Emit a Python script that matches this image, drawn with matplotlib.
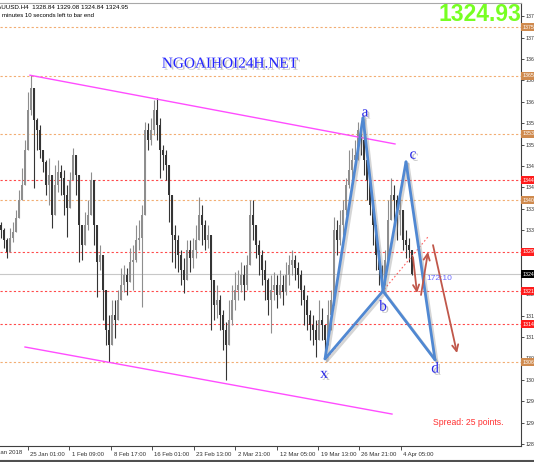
import matplotlib.pyplot as plt
import matplotlib.patheffects as pe
import matplotlib.transforms as mtransforms
import numpy as np

# H4 candles (each entry spans roughly two chart bars), prices
close = [
    1334.0, 1332.0, 1329.5, 1332.4, 1333.6, 1336.5, 1340.2, 1343.3, 1350.5, 1358.8,
    1363.4, 1356.7, 1354.7, 1350.5, 1348.1, 1343.3, 1345.4, 1337.1, 1343.3, 1346.0,
    1344.8, 1341.3, 1338.6, 1344.4, 1349.5, 1345.4, 1335.1, 1330.9, 1335.1, 1337.1,
    1344.4, 1335.1, 1327.4, 1328.9, 1321.6, 1313.4, 1310.3, 1316.5, 1315.4, 1319.6,
    1322.7, 1324.7, 1323.3, 1327.4, 1327.8, 1332.0, 1332.4, 1337.1, 1354.7, 1352.6,
    1354.7, 1358.8, 1355.7, 1350.5, 1349.5, 1347.5, 1341.3, 1333.0, 1332.0, 1328.9,
    1325.8, 1323.7, 1329.9, 1328.2, 1329.9, 1332.0, 1337.1, 1335.1, 1332.0, 1333.0,
    1323.7, 1318.5, 1319.6, 1316.5, 1313.4, 1310.3, 1315.4, 1319.6, 1321.6, 1322.7,
    1324.7, 1322.7, 1326.8, 1337.1, 1335.1, 1330.9, 1328.9, 1325.8, 1323.7, 1319.6,
    1321.6, 1322.7, 1320.6, 1322.7, 1321.2, 1324.7, 1326.8, 1327.8, 1326.2, 1324.7,
    1321.6, 1319.6, 1316.5, 1314.4, 1313.4, 1311.3, 1315.4, 1314.4, 1311.3, 1316.5,
    1319.6, 1334.0, 1332.0, 1335.1, 1338.2, 1343.3, 1346.4, 1348.5, 1349.5, 1354.7,
    1352.6, 1348.5, 1344.4, 1339.2, 1335.1, 1328.9, 1325.8, 1323.7, 1327.8, 1336.1,
    1341.3, 1340.2, 1337.1, 1338.2, 1332.0, 1330.9, 1329.9, 1324.9,
]
high = [
    1335.7, 1334.4, 1332.4, 1334.4, 1335.7, 1338.2, 1342.3, 1346.8, 1352.6, 1362.5,
    1366.0, 1361.9, 1357.2, 1355.7, 1350.5, 1348.5, 1348.9, 1343.3, 1347.5, 1348.5,
    1347.5, 1346.4, 1343.3, 1346.0, 1351.0, 1349.5, 1342.3, 1335.1, 1337.7, 1340.2,
    1346.0, 1339.2, 1332.4, 1330.9, 1327.8, 1321.6, 1316.5, 1319.6, 1319.6, 1321.6,
    1326.2, 1326.8, 1326.2, 1330.3, 1330.9, 1335.1, 1336.1, 1339.2, 1356.3, 1356.1,
    1357.2, 1360.9, 1361.3, 1357.2, 1351.6, 1350.5, 1345.4, 1337.1, 1335.1, 1333.0,
    1329.9, 1328.2, 1332.0, 1332.0, 1332.4, 1335.1, 1340.8, 1339.2, 1336.1, 1335.1,
    1333.0, 1323.7, 1322.7, 1320.6, 1317.5, 1315.0, 1319.6, 1322.7, 1325.3, 1325.8,
    1327.4, 1326.8, 1328.9, 1340.2, 1340.2, 1335.1, 1332.0, 1329.9, 1327.8, 1324.1,
    1324.7, 1325.3, 1324.7, 1325.8, 1324.7, 1327.4, 1328.9, 1329.9, 1328.9, 1327.4,
    1325.8, 1322.7, 1320.6, 1317.5, 1316.5, 1315.4, 1319.6, 1317.9, 1314.4, 1319.6,
    1321.6, 1336.7, 1336.1, 1338.2, 1340.2, 1344.8, 1350.5, 1351.0, 1352.6, 1356.3,
    1356.1, 1353.6, 1350.5, 1344.4, 1340.2, 1334.0, 1329.9, 1326.8, 1329.9, 1340.2,
    1344.8, 1343.3, 1341.3, 1342.3, 1337.1, 1334.0, 1332.4, 1328.9,
]
low = [
    1332.4, 1330.3, 1328.2, 1330.3, 1331.5, 1334.4, 1337.7, 1341.3, 1346.4, 1350.5,
    1357.8, 1342.7, 1350.5, 1348.9, 1346.0, 1341.3, 1339.2, 1334.4, 1337.7, 1341.9,
    1341.3, 1337.1, 1332.6, 1341.3, 1346.0, 1341.3, 1327.4, 1327.8, 1333.0, 1334.0,
    1339.2, 1330.9, 1320.2, 1325.8, 1315.4, 1310.3, 1306.8, 1311.3, 1311.7, 1315.4,
    1319.6, 1321.2, 1320.6, 1323.7, 1321.6, 1327.4, 1329.9, 1318.1, 1337.1, 1350.5,
    1351.6, 1353.6, 1352.6, 1344.8, 1346.4, 1344.4, 1335.7, 1327.4, 1326.2, 1325.3,
    1322.7, 1321.0, 1325.8, 1325.3, 1326.2, 1328.2, 1332.0, 1330.9, 1329.9, 1330.3,
    1313.4, 1315.4, 1315.8, 1313.4, 1309.2, 1303.0, 1310.3, 1314.4, 1317.5, 1319.6,
    1321.2, 1319.6, 1321.6, 1326.8, 1332.0, 1328.2, 1324.7, 1322.7, 1319.6, 1316.5,
    1312.7, 1319.6, 1317.9, 1320.0, 1318.5, 1320.6, 1322.7, 1324.7, 1323.7, 1322.0,
    1318.5, 1314.4, 1313.4, 1311.3, 1310.3, 1307.8, 1312.3, 1311.3, 1307.6, 1310.3,
    1313.4, 1318.5, 1328.9, 1330.9, 1333.0, 1337.1, 1342.7, 1344.4, 1346.4, 1348.5,
    1349.5, 1345.4, 1340.2, 1337.1, 1330.9, 1325.8, 1322.7, 1321.2, 1322.7, 1327.4,
    1337.1, 1335.1, 1332.0, 1333.0, 1329.9, 1328.2, 1327.4, 1324.7,
]
first_open = 1335.1
last_price = 1324.93

# horizontal levels drawn on the chart
level_prices = [1375.96, 1365.84, 1353.86, 1344.35, 1340.22, 1329.48, 1321.42, 1314.60, 1306.75]
level_kinds = ["o", "o", "o", "r", "o", "r", "r", "r", "o"]

# x tick labels (bar positions) and the cut-off first one
xtick_pos = [9.0, 22.67, 36.67, 50.33, 64.33, 78.0, 92.0, 105.67, 119.33, 133.33]
xtick_lbl = ["25 Jan 01:00", "1 Feb 09:00", "8 Feb 17:00", "16 Feb 01:00", "23 Feb 13:00",
             "2 Mar 21:00", "12 Mar 05:00", "19 Mar 13:00", "26 Mar 21:00", "4 Apr 05:00"]
first_tick_pos = -4.67
first_tick_lbl = "18 Jan 2018"

# trend channel (bar, price)
chan_upper = [(9.67, 1366.0), (131.33, 1351.8)]
chan_lower = [(8.0, 1309.85), (130.33, 1296.0)]

# harmonic pattern points
pat_names = ["x", "a", "b", "c", "d"]
pat_bar = [108.0, 120.67, 127.33, 135.0, 144.67]
pat_price = [1307.4, 1357.2, 1321.4, 1348.1, 1307.2]
pat_lbl_bar = [107.67, 121.33, 127.33, 137.33, 144.67]
pat_lbl_price = [1304.2, 1358.2, 1318.1, 1349.5, 1305.3]
pat_legs = [("x", "a"), ("a", "b"), ("b", "c"), ("c", "d"), ("x", "b"), ("b", "d")]

# dotted x-b extension and projected arrows
xb_line = [(108.67, 1307.6), (142.33, 1332.6)]
arrows = [((137.33, 1328.4), (138.67, 1321.0)),
          ((140.0, 1320.6), (142.33, 1329.5)),
          ((144.0, 1330.9), (152.0, 1308.6))]

W, H = 534, 462
fig = plt.figure(figsize=(W / 100, H / 100), dpi=100)
ax = fig.add_axes([0, 1 - 446 / H, 521 / W, 443 / H])
ax.set_xlim(-0.333, 173.33)
ax.set_ylim(1289.40, 1380.92)

# levels
lvl_col = {"o": "#f2ad72", "r": "#ff4a4a"}
lbl_col = {"o": "#cf8a4e", "r": "#ff1c1c"}
ytr = mtransforms.blended_transform_factory(ax.transAxes, ax.transData)
for p, k in zip(level_prices, level_kinds):
    ax.axhline(p, color=lvl_col[k], lw=0.8, dashes=(2, 2), zorder=1)
    ax.text(1.003, p, f"{p:.2f}", transform=ytr, ha="left", va="center", fontsize=3.8,
            color="white", family="Liberation Sans", clip_on=False, zorder=6,
            bbox=dict(boxstyle="square,pad=0.3", fc=lbl_col[k], ec="none"))
ax.axhline(last_price, color="#c8c8c8", lw=0.8, zorder=1)
ax.text(1.003, last_price, f"{last_price:.2f}", transform=ytr, ha="left", va="center",
        fontsize=3.8, color="white", family="Liberation Sans", clip_on=False, zorder=6,
        bbox=dict(boxstyle="square,pad=0.3", fc="black", ec="none"))

# candles
c = np.array(close)
o = np.array([first_open] + close[:-1])
hi = np.maximum(np.array(high), np.maximum(o, c))
lo = np.minimum(np.array(low), np.minimum(o, c))
idx = np.arange(len(c))
up = c >= o
cols = np.where(up, "#8e8e8e", "#353535")
ax.vlines(idx, lo, hi, colors=cols, lw=0.8, zorder=2)
ax.bar(idx, np.maximum(np.abs(c - o), 0.15), bottom=np.minimum(o, c), width=0.7,
       color=cols, zorder=3, linewidth=0)

# channel
for seg in (chan_upper, chan_lower):
    ax.plot([seg[0][0], seg[1][0]], [seg[0][1], seg[1][1]], color="#ff4dff", lw=1.0, zorder=4)

# x-b dotted extension
ax.plot([xb_line[0][0], xb_line[1][0]], [xb_line[0][1], xb_line[1][1]],
        color="#ff6060", lw=0.8, dashes=(1.5, 2), zorder=4)

# pattern legs
pts = {n: (b, p) for n, b, p in zip(pat_names, pat_bar, pat_price)}
shadow = [pe.SimpleLineShadow(offset=(1.5, -1.5), shadow_color="#888888", alpha=0.35), pe.Normal()]
for s, e in pat_legs:
    ax.plot([pts[s][0], pts[e][0]], [pts[s][1], pts[e][1]], color="#5088d2", lw=2.0,
            solid_capstyle="round", zorder=5, path_effects=shadow)

tshadow = [pe.SimplePatchShadow(offset=(1.5, -1.5), shadow_rgbFace="#777777", alpha=0.45), pe.Normal()]
for n, b, p in zip(pat_names, pat_lbl_bar, pat_lbl_price):
    ax.text(b, p, n, color="#2424e8", fontsize=11, family="Liberation Serif",
            ha="center", va="center", zorder=6, path_effects=tshadow)

# arrows
for (s, e) in arrows:
    ax.annotate("", xy=e, xytext=s, zorder=5,
                arrowprops=dict(arrowstyle="->,head_length=0.45,head_width=0.22",
                                color="#c0574a", lw=1.3, shrinkA=0, shrinkB=0))

ax.text(0.818, 0.377, "172:10", transform=ax.transAxes, color="#6a6aff", fontsize=6,
        family="Liberation Sans", ha="left", va="center", zorder=6)

ax.text(0.441, 0.862, "NGOAIHOI24H.NET", transform=ax.transAxes, color="#2323ff",
        fontsize=11, family="Liberation Serif", ha="center", va="center", zorder=6,
        path_effects=tshadow)

ax.text(0.922, 0.974, "1324.93", transform=ax.transAxes, color="#77ff22", fontsize=16.5,
        family="Liberation Sans", weight="bold", ha="center", va="center", zorder=6)

ax.text(0.831, 0.052, "Spread: 25 points.", transform=ax.transAxes, color="#ff3030",
        fontsize=6.2, family="Liberation Sans", ha="left", va="center", zorder=6)

fig.text(-0.014, 1 - 7.5 / H, "XAUUSD.H4  1328.84 1329.08 1324.84 1324.95", fontsize=4.5,
         family="Liberation Sans", ha="left", va="center", color="black")
fig.text(0.003, 1 - 15.8 / H, "minutes 10 seconds left to bar end", fontsize=4.3,
         family="Liberation Sans", ha="left", va="center", color="black")

# axes styling
ax.spines["left"].set_visible(False)
ax.spines["top"].set_color("#a8a8a8")
ax.spines["right"].set_color("#404040")
ax.spines["bottom"].set_color("#404040")
ax.spines["right"].set_linewidth(0.8)
ax.spines["bottom"].set_linewidth(0.8)

ax.yaxis.tick_right()
ytick_vals = 1378.2 - 4.42 * np.arange(21)
ax.set_yticks(ytick_vals, [f"{v:.2f}" for v in ytick_vals])
ax.tick_params(axis="y", direction="out", length=2, width=0.6, pad=1, labelsize=3.8,
               colors="#303030")
ax.set_xticks(xtick_pos, xtick_lbl)
ax.tick_params(axis="x", direction="out", length=3, width=0.6, pad=1, labelsize=4.3,
               colors="#303030")
offset = mtransforms.ScaledTranslation(2.5 / 100, 0, fig.dpi_scale_trans)
for lbl in ax.get_xticklabels() + ax.get_yticklabels():
    lbl.set_family("Liberation Sans")
for lbl in ax.get_xticklabels():
    lbl.set_ha("left")
    lbl.set_transform(lbl.get_transform() + offset)

xtr = mtransforms.blended_transform_factory(ax.transData, ax.transAxes)
ax.plot([first_tick_pos, first_tick_pos], [0, -0.007], transform=xtr, color="#303030",
        lw=0.6, clip_on=False)
ax.text(first_tick_pos, -0.009, first_tick_lbl, transform=xtr + offset, fontsize=4.3,
        family="Liberation Sans", ha="left", va="top", color="#303030", clip_on=False)

fig.add_artist(plt.Line2D([0, 1], [1.5 / H, 1.5 / H], transform=fig.transFigure,
                          color="#505050", lw=1.5))

fig.savefig("out.png", dpi=100)
